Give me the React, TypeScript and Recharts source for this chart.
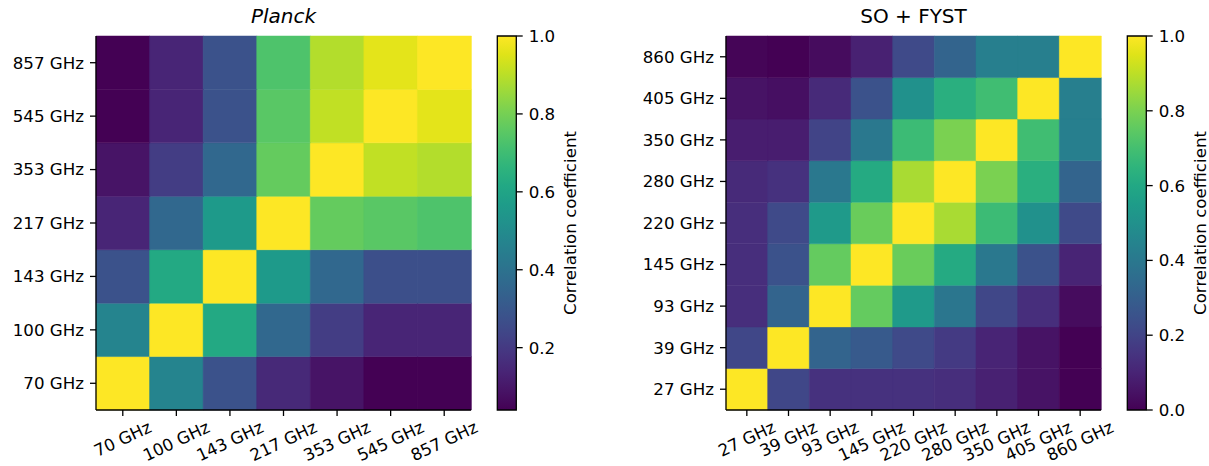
import React from 'react'
import { BarChart, Bar, XAxis, YAxis, Cell } from 'recharts'

// ---- data ----
const PLANCK_BANDS = ['70 GHz', '100 GHz', '143 GHz', '217 GHz', '353 GHz', '545 GHz', '857 GHz']
// rows bottom -> top, columns left -> right
const PLANCK_CORR = [
  [1.0, 0.47, 0.28, 0.15, 0.09, 0.04, 0.04],
  [0.47, 1.0, 0.62, 0.36, 0.21, 0.14, 0.14],
  [0.28, 0.62, 1.0, 0.56, 0.36, 0.27, 0.27],
  [0.14, 0.36, 0.56, 1.0, 0.77, 0.75, 0.73],
  [0.09, 0.21, 0.36, 0.77, 1.0, 0.91, 0.89],
  [0.04, 0.14, 0.28, 0.75, 0.91, 1.0, 0.96],
  [0.04, 0.14, 0.28, 0.73, 0.89, 0.96, 1.0],
]
const PLANCK_CB_TICKS = [0.2, 0.4, 0.6, 0.8, 1.0]

const SO_BANDS = ['27 GHz', '39 GHz', '93 GHz', '145 GHz', '220 GHz', '280 GHz', '350 GHz', '405 GHz', '860 GHz']
const SO_CORR = [
  [1.0, 0.21, 0.14, 0.14, 0.14, 0.13, 0.09, 0.05, 0.0],
  [0.21, 1.0, 0.32, 0.28, 0.22, 0.17, 0.1, 0.05, 0.0],
  [0.13, 0.32, 1.0, 0.76, 0.54, 0.39, 0.21, 0.13, 0.03],
  [0.13, 0.25, 0.76, 1.0, 0.77, 0.61, 0.4, 0.25, 0.1],
  [0.13, 0.22, 0.54, 0.77, 1.0, 0.87, 0.68, 0.5, 0.22],
  [0.12, 0.14, 0.4, 0.61, 0.87, 1.0, 0.8, 0.63, 0.32],
  [0.08, 0.08, 0.2, 0.4, 0.68, 0.8, 1.0, 0.69, 0.43],
  [0.05, 0.04, 0.12, 0.25, 0.5, 0.63, 0.69, 1.0, 0.43],
  [0.01, 0.0, 0.03, 0.09, 0.22, 0.32, 0.43, 0.43, 1.0],
]
const SO_CB_TICKS = [0.0, 0.2, 0.4, 0.6, 0.8, 1.0]

// viridis colormap, 21 stops
const VIRIDIS = [
  '#440154', '#471365', '#482475', '#463480', '#414487', '#3b528b', '#355f8d',
  '#2f6c8e', '#2a788e', '#25848e', '#21918c', '#1e9c89', '#22a884', '#2fb47c',
  '#44bf70', '#5ec962', '#7ad151', '#9bd93c', '#bddf26', '#dfe318', '#fde725',
]

const FONT = 'DejaVu Sans'
const FS = 16.67

function hexToRgb(h: string) {
  return [parseInt(h.slice(1, 3), 16), parseInt(h.slice(3, 5), 16), parseInt(h.slice(5, 7), 16)]
}

function viridis(t: number) {
  const c = Math.max(0, Math.min(1, t)) * (VIRIDIS.length - 1)
  const i = Math.min(Math.floor(c), VIRIDIS.length - 2)
  const f = c - i
  const a = hexToRgb(VIRIDIS[i])
  const b = hexToRgb(VIRIDIS[i + 1])
  const m = a.map((v, k) => Math.round(v + (b[k] - v) * f))
  return `rgb(${m[0]},${m[1]},${m[2]})`
}

let ctx: CanvasRenderingContext2D | null = null
function textWidth(s: string) {
  if (!ctx) ctx = document.createElement('canvas').getContext('2d')
  if (!ctx) return s.length * FS * 0.6
  ctx.font = `${FS}px "${FONT}"`
  return ctx.measureText(s).width
}

// x tick label rotated 25deg, centred under the tick like matplotlib
const RotTick = (props: any) => {
  const { x, y, payload } = props
  const label = payload.value
  const w = textWidth(label)
  const a = (25 * Math.PI) / 180
  const bboxH = w * Math.sin(a) + FS * 1.1 * Math.cos(a)
  const cy = y + bboxH / 2
  return (
    <text
      x={0}
      y={0}
      transform={`translate(${x},${cy}) rotate(-25)`}
      textAnchor="middle"
      dominantBaseline="central"
      fontFamily={FONT}
      fontSize={FS}
      fill="#000"
    >
      {label}
    </text>
  )
}

const spine = { stroke: '#000', strokeWidth: 1.3 }

function Heatmap({ bands, corr, left, width, marginLeft, marginRight }: any) {
  const n = bands.length
  const vals = corr.flat()
  const vmin = Math.min(...vals)
  const vmax = Math.max(...vals)
  const data = bands.map((b: string) => {
    const row: any = { col: b }
    for (let i = 0; i < n; i++) row[`r${i}`] = 1
    return row
  })
  const yTicks = bands.map((_: string, i: number) => i + 0.5)
  return (
    <div style={{ position: 'absolute', left, top: 0 }}>
      <BarChart
        width={width}
        height={466}
        data={data}
        barCategoryGap={0}
        barGap={0}
        margin={{ top: 36, left: marginLeft, right: marginRight, bottom: 6 }}
      >
        <XAxis
          dataKey="col"
          height={50}
          interval={0}
          tickSize={6}
          tickMargin={2}
          axisLine={spine}
          tickLine={{ stroke: '#000', strokeWidth: 1.3 }}
          tick={<RotTick />}
        />
        <XAxis xAxisId="top" dataKey="col" orientation="top" height={0} tick={false} tickLine={false} axisLine={spine} />
        <YAxis
          type="number"
          domain={[0, n]}
          ticks={yTicks}
          interval={0}
          width={80}
          tickSize={6}
          tickMargin={6}
          axisLine={spine}
          tickLine={{ stroke: '#000', strokeWidth: 1.3 }}
          tick={{ fontFamily: FONT, fontSize: FS, fill: '#000' }}
          tickFormatter={(v: number) => bands[Math.floor(v)]}
        />
        <YAxis yAxisId="right" type="number" orientation="right" domain={[0, n]} width={0} tick={false} tickLine={false} axisLine={spine} />
        {bands.map((_: string, i: number) => (
          <Bar key={i} dataKey={`r${i}`} stackId="s" isAnimationActive={false}>
            {bands.map((__: string, j: number) => {
              const c = viridis((corr[i][j] - vmin) / (vmax - vmin))
              return <Cell key={j} fill={c} stroke={c} strokeWidth={0.5} />
            })}
          </Bar>
        ))}
      </BarChart>
    </div>
  )
}

function Colorbar({ id, vmin, ticks, left }: any) {
  const data = [{ name: 'cb', span: [vmin, 1] }]
  const stops = VIRIDIS.map((c, i) => (
    <stop key={i} offset={`${(i / (VIRIDIS.length - 1)) * 100}%`} stopColor={c} />
  ))
  return (
    <div style={{ position: 'absolute', left, top: 0 }}>
      <BarChart
        width={134}
        height={466}
        data={data}
        barCategoryGap={0}
        margin={{ top: 36, left: 7.3, right: 0.7, bottom: 56 }}
      >
        <defs>
          <linearGradient id={id} x1="0" y1="1" x2="0" y2="0">
            {stops}
          </linearGradient>
        </defs>
        <XAxis dataKey="name" hide />
        <YAxis
          type="number"
          orientation="right"
          domain={[vmin, 1]}
          ticks={ticks}
          interval={0}
          width={106.6}
          tickSize={6}
          tickMargin={6}
          axisLine={false}
          tickLine={{ stroke: '#000', strokeWidth: 1.3 }}
          tick={{ fontFamily: FONT, fontSize: FS, fill: '#000', textAnchor: 'start' }}
          tickFormatter={(v: number) => v.toFixed(1)}
          label={{
            value: 'Correlation coefficient',
            angle: -90,
            position: 'center',
            fontFamily: FONT,
            fontSize: FS,
            fill: '#000',
          }}
        />
        <Bar dataKey="span" fill={`url(#${id})`} stroke="#000" strokeWidth={1.3} isAnimationActive={false} />
      </BarChart>
    </div>
  )
}

const titleStyle: React.CSSProperties = {
  position: 'absolute',
  top: 4,
  width: 375,
  textAlign: 'center',
  fontFamily: FONT,
  fontSize: 20,
  color: '#000',
  lineHeight: '24px',
}

export default function App() {
  const planckMin = Math.min(...PLANCK_CORR.flat())
  const soMin = Math.min(...SO_CORR.flat())
  return (
    <div
      style={{
        position: 'absolute',
        left: 0,
        top: 0,
        width: 1209,
        height: 466,
        overflow: 'hidden',
        background: '#fff',
      }}
    >
      <Heatmap bands={PLANCK_BANDS} corr={PLANCK_CORR} left={0} width={490} marginLeft={16} marginRight={19} />
      <Colorbar id="virL" vmin={planckMin} ticks={PLANCK_CB_TICKS} left={490} />
      <Heatmap bands={SO_BANDS} corr={SO_CORR} left={620} width={500} marginLeft={26} marginRight={19} />
      <Colorbar id="virR" vmin={soMin} ticks={SO_CB_TICKS} left={1120} />
      <div style={{ ...titleStyle, left: 96, fontStyle: 'italic' }}>Planck</div>
      <div style={{ ...titleStyle, left: 726 }}>SO + FYST</div>
    </div>
  )
}
